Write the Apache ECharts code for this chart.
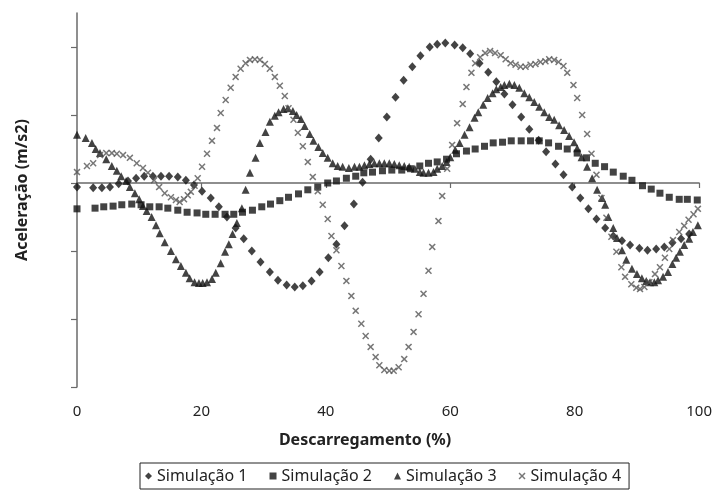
<!DOCTYPE html>
<html>
<head>
<meta charset="utf-8">
<script src="https://cdn.jsdelivr.net/npm/echarts@6/dist/echarts.min.js"></script>
<style>
  html, body { margin: 0; padding: 0; background: #fff; }
  #chart { width: 715px; height: 495px; }
</style>
</head>
<body>
<div id="chart"></div>
<script>
// eixo x: descarregamento (%), eixo y: aceleração (unidades das marcas do eixo)
const xTicks = [0, 20, 40, 60, 80, 100];
const yTicks = [-3, -2, -1, 0, 1, 2];
const seriesNames = ["Simulação 1", "Simulação 2", "Simulação 3", "Simulação 4"];

// Simulação 1 (losangos)
const sim1 = [
  [0,-0.06],[2.6,-0.07],[4.0,-0.07],[5.3,-0.06],[6.7,-0.01],[8.2,0.03],[9.5,0.07],[10.8,0.10],
  [12.2,0.10],[13.5,0.10],[14.8,0.10],[16.2,0.09],[17.5,0.04],[18.8,-0.03],[20.1,-0.12],[21.5,-0.22],
  [22.8,-0.35],[24.1,-0.50],[25.5,-0.66],[26.8,-0.82],[28.1,-1.00],[29.5,-1.16],[31.0,-1.31],[32.3,-1.43],
  [33.7,-1.50],[35.0,-1.53],[36.3,-1.51],[37.7,-1.44],[39.0,-1.31],[40.4,-1.10],[41.7,-0.90],[43.0,-0.63],
  [44.5,-0.31],[45.9,0.01],[47.2,0.35],[48.5,0.66],[49.8,0.97],[51.2,1.26],[52.5,1.51],[53.9,1.71],
  [55.2,1.87],[56.7,2.00],[57.9,2.04],[59.2,2.06],[60.7,2.03],[62.0,1.99],[63.2,1.90],[64.7,1.76],
  [66.1,1.63],[67.4,1.49],[68.7,1.31],[70.0,1.15],[71.4,0.97],[72.7,0.79],[74.2,0.63],[75.4,0.46],
  [76.9,0.28],[78.2,0.12],[79.6,-0.06],[80.9,-0.22],[82.2,-0.38],[83.5,-0.53],[84.9,-0.66],[86.2,-0.78],
  [87.6,-0.85],[88.9,-0.91],[90.4,-0.96],[91.7,-0.99],[93.1,-0.97],[94.4,-0.94],[95.7,-0.88],[97.1,-0.82],
  [98.4,-0.75]
];

// Simulação 2 (quadrados)
const sim2 = [
  [0,-0.38],[2.9,-0.37],[4.3,-0.35],[5.8,-0.34],[7.2,-0.32],[8.8,-0.31],[10.3,-0.32],[11.7,-0.35],
  [13.2,-0.35],[14.6,-0.37],[16.2,-0.40],[17.7,-0.43],[19.3,-0.44],[20.7,-0.46],[22.2,-0.46],[23.8,-0.46],
  [25.2,-0.46],[26.6,-0.43],[28.2,-0.40],[29.7,-0.35],[31.1,-0.31],[32.6,-0.26],[34.0,-0.21],[35.6,-0.16],
  [37.1,-0.10],[38.7,-0.06],[40.3,0.00],[41.7,0.03],[43.3,0.07],[44.8,0.10],[46.1,0.15],[47.5,0.16],
  [49.1,0.18],[50.6,0.19],[52.2,0.19],[53.6,0.21],[55.1,0.25],[56.5,0.29],[57.9,0.31],[59.4,0.35],
  [61.0,0.43],[62.6,0.47],[64.0,0.50],[65.5,0.54],[66.9,0.59],[68.4,0.60],[69.8,0.62],[71.4,0.62],
  [72.9,0.62],[74.3,0.62],[75.8,0.59],[77.4,0.54],[78.8,0.50],[80.4,0.44],[81.9,0.37],[83.3,0.29],
  [84.8,0.24],[86.2,0.16],[87.8,0.10],[89.2,0.04],[90.9,-0.04],[92.3,-0.09],[93.7,-0.15],[95.2,-0.21],
  [96.8,-0.24],[98.1,-0.24],[99.7,-0.25]
];

// Simulação 3 (triângulos)
const sim3 = [
  [0,0.71],[1.4,0.66],[2.4,0.59],[3.0,0.50],[3.7,0.44],[4.7,0.35],[5.6,0.25],[6.4,0.18],[7.1,0.10],
  [7.9,0.03],[8.5,-0.06],[9.3,-0.15],[10.0,-0.24],[10.6,-0.34],[11.2,-0.41],[12.0,-0.50],[12.7,-0.62],
  [13.3,-0.74],[14.1,-0.87],[15.1,-1.00],[15.9,-1.12],[16.7,-1.22],[17.5,-1.32],[18.1,-1.40],[18.9,-1.46],
  [19.6,-1.47],[20.2,-1.47],[20.9,-1.46],[21.7,-1.41],[22.3,-1.32],[23.1,-1.18],[23.8,-1.01],[24.4,-0.90],
  [25.0,-0.75],[25.7,-0.59],[26.5,-0.37],[27.1,-0.10],[27.8,0.15],[28.7,0.37],[29.4,0.59],[30.3,0.75],
  [31.0,0.90],[31.8,0.99],[32.4,1.04],[33.2,1.09],[33.9,1.10],[34.7,1.06],[35.3,1.00],[36.0,0.94],
  [36.6,0.84],[37.4,0.72],[38.0,0.62],[38.8,0.53],[39.5,0.44],[40.3,0.37],[41.1,0.29],[41.9,0.25],
  [42.7,0.24],[43.7,0.22],[44.6,0.24],[45.4,0.24],[46.2,0.26],[47.0,0.28],[47.8,0.29],[48.6,0.29],
  [49.4,0.29],[50.2,0.29],[51.0,0.28],[51.8,0.26],[52.6,0.25],[53.4,0.24],[54.3,0.21],[55.1,0.16],
  [55.7,0.15],[56.5,0.15],[57.3,0.16],[57.9,0.21],[58.7,0.25],[59.4,0.31],[60.0,0.38],[60.8,0.49],
  [61.5,0.59],[62.3,0.71],[63.1,0.82],[63.9,0.96],[64.5,1.04],[65.3,1.15],[66.0,1.25],[66.8,1.32],
  [67.4,1.38],[68.1,1.41],[68.7,1.44],[69.5,1.46],[70.3,1.44],[71.1,1.40],[71.9,1.32],[72.7,1.26],
  [73.5,1.19],[74.3,1.12],[75.1,1.04],[75.9,0.97],[76.7,0.93],[77.5,0.85],[78.3,0.78],[79.1,0.69],
  [79.9,0.60],[80.4,0.51],[81.1,0.38],[82.0,0.24],[82.8,0.07],[83.6,-0.10],[84.4,-0.22],[84.9,-0.32],
  [85.4,-0.50],[86.2,-0.66],[86.8,-0.81],[87.6,-0.99],[88.3,-1.13],[89.2,-1.26],[90.0,-1.34],[90.8,-1.40],
  [91.5,-1.44],[92.1,-1.46],[92.8,-1.46],[93.4,-1.43],[94.2,-1.38],[95.0,-1.31],[95.7,-1.19],[96.3,-1.10],
  [96.9,-1.01],[97.6,-0.91],[98.4,-0.82],[99.0,-0.72],[99.8,-0.62]
];

// Simulação 4 (cruzes)
const sim4 = [
  [0,0.16],[1.6,0.25],[2.6,0.29],[3.7,0.41],[4.7,0.44],[5.6,0.44],[6.4,0.43],[7.4,0.41],[8.5,0.37],
  [9.6,0.29],[10.6,0.22],[11.4,0.15],[12.4,0.04],[13.2,-0.06],[14.1,-0.15],[15.1,-0.21],[15.9,-0.25],
  [16.5,-0.28],[17.2,-0.24],[17.8,-0.18],[18.3,-0.13],[18.9,-0.04],[19.4,0.07],[20.1,0.24],[20.9,0.43],
  [21.7,0.62],[22.5,0.81],[23.1,1.03],[23.9,1.22],[24.7,1.40],[25.5,1.56],[26.3,1.68],[27.1,1.76],
  [27.8,1.81],[28.6,1.82],[29.4,1.81],[30.2,1.75],[31.0,1.68],[31.8,1.56],[32.6,1.43],[33.4,1.28],
  [34.0,1.10],[34.8,0.93],[35.5,0.74],[36.3,0.54],[37.1,0.31],[37.9,0.09],[38.7,-0.12],[39.5,-0.32],
  [40.3,-0.53],[40.9,-0.78],[41.7,-0.99],[42.5,-1.22],[43.3,-1.44],[44.1,-1.66],[44.8,-1.88],[45.7,-2.07],
  [46.4,-2.25],[47.2,-2.41],[48.0,-2.56],[48.6,-2.68],[49.4,-2.75],[50.2,-2.76],[50.9,-2.76],[51.7,-2.71],
  [52.6,-2.59],[53.3,-2.41],[54.1,-2.19],[54.9,-1.93],[55.7,-1.63],[56.5,-1.29],[57.1,-0.94],[58.1,-0.56],
  [58.7,-0.19],[59.5,0.21],[60.3,0.56],[61.1,0.88],[62.0,1.16],[62.6,1.41],[63.4,1.62],[64.0,1.76],
  [64.8,1.85],[65.6,1.91],[66.4,1.94],[67.2,1.91],[68.1,1.88],[68.9,1.82],[69.7,1.76],[70.5,1.74],
  [71.3,1.71],[72.1,1.71],[72.9,1.74],[73.7,1.75],[74.5,1.78],[75.3,1.79],[75.9,1.82],[76.7,1.81],
  [77.4,1.78],[78.2,1.72],[78.8,1.62],[79.8,1.44],[80.4,1.25],[81.2,1.00],[82.0,0.72],[82.7,0.43],
  [83.5,0.12],[84.3,-0.22],[85.1,-0.51],[85.9,-0.79],[86.7,-1.01],[87.5,-1.24],[88.1,-1.38],[89.1,-1.49],
  [89.9,-1.54],[90.5,-1.56],[91.2,-1.53],[92.0,-1.46],[92.9,-1.34],[93.7,-1.24],[94.5,-1.10],[95.2,-0.97],
  [95.8,-0.84],[96.8,-0.72],[97.6,-0.63],[98.3,-0.54],[99.1,-0.46],[99.8,-0.38]
];

const FONT = "'Noto Sans', sans-serif";
const crossPath = "path://M0,1.5 L1.5,0 L5,3.5 L8.5,0 L10,1.5 L6.5,5 L10,8.5 L8.5,10 L5,6.5 L1.5,10 L0,8.5 L3.5,5 Z";

const chart = echarts.init(document.getElementById("chart"), null, { renderer: "canvas" });

const option = {
  backgroundColor: "#fff",
  animation: false,
  textStyle: { fontFamily: FONT },
  grid: { left: 77, right: 15, top: 13, bottom: 108, containLabel: false },
  legend: {
    data: seriesNames,
    left: 140,
    top: 463,
    orient: "horizontal",
    padding: [5, 8, 5, 5],
    itemGap: 22,
    itemWidth: 7,
    itemHeight: 7,
    borderColor: "#222",
    borderWidth: 1,
    textStyle: { fontSize: 16, color: "#222", fontFamily: FONT }
  },
  xAxis: [
    {
      type: "value",
      min: 0,
      max: 100,
      interval: 20,
      position: "bottom",
      axisLine: { show: false, onZero: false },
      axisTick: { show: false },
      splitLine: { show: false },
      axisLabel: { fontSize: 15, color: "#222", margin: 17, fontFamily: FONT },
      name: "Descarregamento (%)",
      nameLocation: "middle",
      nameGap: 45,
      nameTextStyle: { fontSize: 16, fontWeight: "bold", color: "#222", fontFamily: FONT, padding: [0, 46, 0, 0] }
    },
    {
      // linha do zero
      type: "value",
      min: 0,
      max: 100,
      interval: 20,
      position: "top",
      axisLine: { show: true, onZero: true, lineStyle: { color: "#6a6a6a", width: 1.5 } },
      axisTick: { show: true, inside: true, length: 5, lineStyle: { color: "#6a6a6a", width: 1.2 } },
      axisLabel: { show: false },
      splitLine: { show: false }
    }
  ],
  yAxis: {
    type: "value",
    min: -3,
    max: 2.5,
    interval: 1,
    axisLine: { show: true, onZero: false, lineStyle: { color: "#6a6a6a", width: 1.5 } },
    axisTick: { show: true, length: 6, customValues: yTicks, lineStyle: { color: "#6a6a6a", width: 1.2 } },
    axisLabel: { show: false },
    splitLine: { show: false },
    name: "Aceleração (m/s2)",
    nameLocation: "middle",
    nameGap: 47,
    nameTextStyle: { fontSize: 16, fontWeight: "bold", color: "#222", fontFamily: FONT, padding: [0, 0, 0, 20] }
  },
  series: [
    {
      name: seriesNames[0], type: "scatter", xAxisIndex: 0, data: sim1,
      symbol: "diamond", symbolSize: [8, 9],
      itemStyle: { color: "#141414" }
    },
    {
      name: seriesNames[1], type: "scatter", xAxisIndex: 0, data: sim2,
      symbol: "rect", symbolSize: 7,
      itemStyle: { color: "#141414" }
    },
    {
      name: seriesNames[2], type: "scatter", xAxisIndex: 0, data: sim3,
      symbol: "triangle", symbolSize: 8,
      itemStyle: { color: "#141414" }
    },
    {
      name: seriesNames[3], type: "scatter", xAxisIndex: 0, data: sim4,
      symbol: crossPath, symbolSize: 7,
      itemStyle: { color: "#555" }
    }
  ]
};

chart.setOption(option);
</script>
</body>
</html>
